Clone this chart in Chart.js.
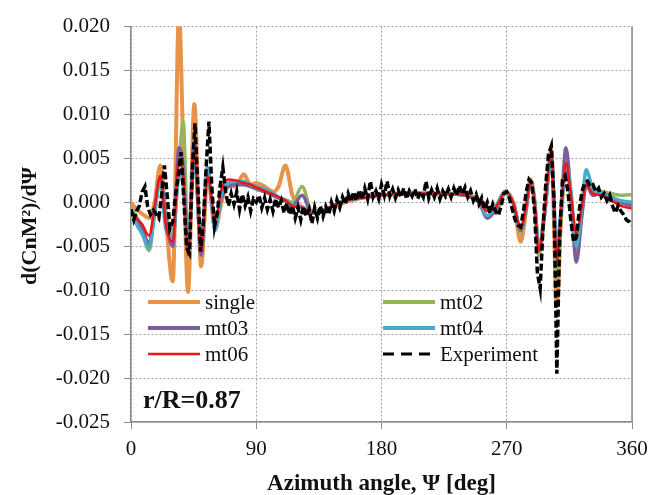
<!DOCTYPE html>
<html>
<head>
<meta charset="utf-8">
<script src="https://cdn.jsdelivr.net/npm/chart.js@4.4.0/dist/chart.umd.min.js"></script>
<style>
  html, body { margin: 0; padding: 0; background: #fff; }
  #wrap { width: 666px; height: 495px; }
</style>
</head>
<body>
<div id="wrap"><canvas id="cnm" width="666" height="495"></canvas></div>
<script>
// azimuth stations of the CFD runs [deg]
const psiModel = [0, 4, 8, 13, 17, 21, 25, 30, 34.5, 37.5,
  41, 45.5, 50.4, 55, 60.5, 65, 70, 75, 81, 86,
  90, 96, 102, 106, 111, 116, 123, 130, 140, 150,
  165, 180, 200, 220, 240, 250, 256, 262, 269, 275,
  280, 284, 287, 290, 293, 297, 302, 306, 309, 312.5,
  316, 320, 324, 327, 332, 338, 345, 352, 360];

const single = [0.0000, -0.0008, -0.0013, -0.0018, 0.0000, 0.0042, -0.0020, -0.0090, 0.0215, 0.0065,
  -0.0102, 0.0112, -0.0073, 0.0030, -0.0030, 0.0000, 0.0020, 0.0018, 0.0032, 0.0020,
  0.0022, 0.0018, 0.0012, 0.0018, 0.0042, 0.0008, -0.0006, -0.0012, -0.0010, -0.0002,
  0.0005, 0.0008, 0.0010, 0.0010, 0.0009, 0.0003, -0.0006, -0.0010, 0.0012, -0.0002,
  -0.0045, -0.0008, 0.0026, 0.0002, -0.0060, -0.0015, 0.0060, -0.0118, -0.0020, 0.0042,
  0.0005, -0.0055, -0.0010, 0.0022, 0.0008, 0.0012, 0.0006, 0.0000, -0.0002];

const mt02 = [-0.0006, -0.0016, -0.0032, -0.0055, -0.0010, 0.0030, -0.0010, -0.0040, 0.0045, 0.0092,
  -0.0048, 0.0062, -0.0055, 0.0035, -0.0025, 0.0010, 0.0020, 0.0022, 0.0020, 0.0018,
  0.0015, 0.0012, 0.0008, 0.0005, 0.0003, 0.0000, 0.0018, -0.0010, -0.0008, 0.0000,
  0.0005, 0.0008, 0.0010, 0.0010, 0.0008, 0.0003, -0.0008, -0.0012, 0.0010, -0.0002,
  -0.0035, -0.0005, 0.0024, 0.0000, -0.0058, -0.0015, 0.0056, -0.0085, -0.0015, 0.0045,
  0.0005, -0.0050, -0.0008, 0.0025, 0.0010, 0.0012, 0.0010, 0.0008, 0.0009];

const mt03 = [-0.0012, -0.0020, -0.0030, -0.0047, -0.0010, 0.0028, -0.0020, -0.0050, 0.0062, 0.0040,
  -0.0055, 0.0070, -0.0060, 0.0040, -0.0025, 0.0005, 0.0018, 0.0020, 0.0020, 0.0018,
  0.0016, 0.0012, 0.0008, 0.0005, 0.0002, -0.0004, 0.0008, -0.0012, -0.0008, 0.0000,
  0.0005, 0.0008, 0.0010, 0.0010, 0.0008, 0.0000, -0.0018, -0.0008, 0.0012, -0.0002,
  -0.0032, -0.0005, 0.0024, 0.0000, -0.0055, -0.0015, 0.0050, -0.0060, -0.0010, 0.0062,
  0.0010, -0.0068, -0.0015, 0.0020, 0.0008, 0.0010, 0.0006, 0.0000, -0.0004];

const mt04 = [-0.0008, -0.0025, -0.0036, -0.0052, -0.0012, 0.0025, -0.0030, -0.0040, 0.0030, 0.0020,
  -0.0050, 0.0050, -0.0050, 0.0040, -0.0032, 0.0010, 0.0022, 0.0024, 0.0024, 0.0020,
  0.0018, 0.0015, 0.0010, 0.0006, 0.0002, -0.0004, -0.0005, -0.0012, -0.0008, 0.0000,
  0.0005, 0.0008, 0.0010, 0.0010, 0.0008, 0.0000, -0.0015, -0.0005, 0.0013, -0.0002,
  -0.0030, -0.0005, 0.0022, 0.0000, -0.0052, -0.0015, 0.0050, -0.0048, -0.0010, 0.0040,
  0.0015, -0.0050, -0.0005, 0.0037, 0.0015, 0.0010, 0.0006, 0.0002, 0.0000];

const mt06 = [-0.0010, -0.0018, -0.0025, -0.0038, -0.0005, 0.0030, -0.0025, -0.0045, 0.0050, 0.0030,
  -0.0060, 0.0060, -0.0055, 0.0030, -0.0020, 0.0015, 0.0026, 0.0025, 0.0022, 0.0020,
  0.0017, 0.0013, 0.0009, 0.0006, 0.0002, -0.0004, -0.0006, -0.0012, -0.0008, 0.0000,
  0.0005, 0.0008, 0.0010, 0.0010, 0.0008, 0.0000, -0.0010, -0.0006, 0.0012, -0.0002,
  -0.0030, -0.0005, 0.0022, 0.0000, -0.0055, -0.0015, 0.0055, -0.0065, -0.0010, 0.0045,
  0.0010, -0.0035, -0.0005, 0.0020, 0.0010, 0.0008, 0.0002, -0.0004, -0.0007];

// wind-tunnel data, one sample every 2 deg from 0 to 360
const psiExpStep = 2;
const experiment = [
  -0.0008, -0.0020, -0.0010, -0.0004, 0.0012, 0.0018, -0.0005, -0.0014, -0.0009, -0.0013,
  -0.0018, 0.0008, 0.0042, 0.0008, -0.0030, -0.0022, 0.0008, 0.0030, 0.0057, 0.0002,
  -0.0052, -0.0058, 0.0035, 0.0090, 0.0018, -0.0056, -0.0022, 0.0040, 0.0092, 0.0020,
  -0.0028, -0.0012, 0.0018, 0.0040, 0.0012, -0.0004, 0.0010, -0.0002, 0.0012, -0.0008,
  0.0009, -0.0004, 0.0006, -0.0010, 0.0004, 0.0000, 0.0008, -0.0006, 0.0005, -0.0008,
  0.0003, -0.0010, 0.0004, -0.0006, 0.0002, -0.0012, -0.0001, -0.0014, -0.0004, -0.0018,
  -0.0006, -0.0020, -0.0005, -0.0016, -0.0008, -0.0024, -0.0006, -0.0018, -0.0004, -0.0016,
  -0.0005, -0.0014, 0.0000, -0.0010, 0.0003, -0.0006, 0.0006, -0.0002, 0.0010, 0.0001,
  0.0012, 0.0002, 0.0014, 0.0003, 0.0016, 0.0004, 0.0024, 0.0006, 0.0013, 0.0004,
  0.0020, 0.0008, 0.0024, 0.0007, 0.0015, 0.0005, 0.0014, 0.0006, 0.0016, 0.0004,
  0.0013, 0.0007, 0.0015, 0.0004, 0.0012, 0.0006, 0.0024, 0.0005, 0.0014, 0.0006,
  0.0016, 0.0004, 0.0013, 0.0007, 0.0015, 0.0006, 0.0016, 0.0008, 0.0019, 0.0009,
  0.0017, 0.0006, 0.0013, 0.0002, 0.0009, -0.0002, 0.0005, -0.0008, 0.0000, -0.0012,
  -0.0002, -0.0010, -0.0015, -0.0004, 0.0010, 0.0012, 0.0004, -0.0008, -0.0020, -0.0026,
  -0.0028, -0.0010, 0.0012, 0.0026, 0.0022, -0.0010, -0.0080, -0.0098, -0.0030, 0.0020,
  0.0055, 0.0064, 0.0000, -0.0195, -0.0040, 0.0025, 0.0030, 0.0012, -0.0020, -0.0045,
  -0.0040, -0.0010, 0.0012, 0.0022, 0.0024, 0.0018, 0.0020, 0.0012, 0.0016, 0.0006,
  0.0010, 0.0002, 0.0008, -0.0004, -0.0012, -0.0004, -0.0010, -0.0014, -0.0020, -0.0022,
  -0.0026];
const psiExp = experiment.map((_, i) => i * psiExpStep);

const xTicks = [0, 90, 180, 270, 360];
const yMin = -0.025, yMax = 0.020, yStep = 0.005;

const SERIES = [
  { label: 'single', ys: single, color: '#E8934A', width: 4, order: 5 },
  { label: 'mt02', ys: mt02, color: '#94B65A', width: 3.5, order: 4 },
  { label: 'mt03', ys: mt03, color: '#7B5EA0', width: 3.5, order: 3 },
  { label: 'mt04', ys: mt04, color: '#4BAAC6', width: 3.5, order: 2 },
  { label: 'mt06', ys: mt06, color: '#F01414', width: 2.5, order: 1 }
];

const SERIF = '"Liberation Serif", "Times New Roman", serif';

function pairs(xs, ys) {
  return xs.map((x, i) => ({ x, y: ys[i] }));
}

const datasets = SERIES.map(s => ({
  label: s.label,
  data: pairs(psiModel, s.ys),
  borderColor: s.color,
  borderWidth: s.width,
  pointRadius: 0,
  cubicInterpolationMode: 'monotone',
  order: s.order
}));

datasets.push({
  label: 'Experiment',
  data: pairs(psiExp, experiment),
  borderColor: '#000',
  borderWidth: 3.5,
  borderDash: [7, 3],
  pointRadius: 0,
  tension: 0,
  order: 0
});

// legend entries, filled row by row in two columns
const legendItems = [
  { label: 'single', color: '#E8934A', width: 4 },
  { label: 'mt02', color: '#94B65A', width: 4 },
  { label: 'mt03', color: '#7B5EA0', width: 4 },
  { label: 'mt04', color: '#4BAAC6', width: 4 },
  { label: 'mt06', color: '#F01414', width: 2.5 },
  { label: 'Experiment', color: '#000', width: 3, dash: [11, 7] }
];

const decorations = {
  id: 'decorations',
  afterDraw(chart) {
    const { ctx, chartArea: a } = chart;
    ctx.save();

    // right edge of the frame
    ctx.strokeStyle = '#8c8c8c';
    ctx.lineWidth = 1.5;
    ctx.beginPath();
    ctx.moveTo(a.right, a.top);
    ctx.lineTo(a.right, a.bottom);
    ctx.stroke();

    // legend
    const colX = [a.left + 17, a.left + 252];
    const rowY = [302, 328, 354];
    ctx.font = '21px ' + SERIF;
    ctx.textBaseline = 'middle';
    ctx.textAlign = 'left';
    legendItems.forEach((it, i) => {
      const x = colX[i % 2], y = rowY[Math.floor(i / 2)];
      ctx.strokeStyle = it.color;
      ctx.lineWidth = it.width;
      ctx.setLineDash(it.dash || []);
      ctx.beginPath();
      ctx.moveTo(x, y);
      ctx.lineTo(x + 52, y);
      ctx.stroke();
      ctx.setLineDash([]);
      ctx.fillStyle = '#111';
      ctx.fillText(it.label, x + 57, y + 1);
    });

    // station label
    ctx.font = 'bold 26px ' + SERIF;
    ctx.textBaseline = 'alphabetic';
    ctx.fillText('r/R=0.87', a.left + 12, 408);

    // axis titles
    ctx.font = 'bold 23px ' + SERIF;
    ctx.textAlign = 'center';
    ctx.fillText('Azimuth angle, \u03A8 [deg]', (a.left + a.right) / 2, 490);

    ctx.translate(30, 226);
    ctx.rotate(-Math.PI / 2);
    ctx.font = 'bold 22px ' + SERIF;
    ctx.textBaseline = 'middle';
    ctx.fillText('d(CnM\u00B2)/d\u03A8', 0, 0);

    ctx.restore();
  }
};

Chart.defaults.font.family = SERIF;
Chart.defaults.color = '#111';

new Chart(document.getElementById('cnm'), {
  type: 'line',
  data: { datasets },
  options: {
    responsive: false,
    animation: false,
    layout: { padding: { top: 16, right: 34, left: 0, bottom: 0 } },
    plugins: { legend: { display: false }, tooltip: { enabled: false } },
    scales: {
      x: {
        type: 'linear',
        min: xTicks[0],
        max: xTicks[xTicks.length - 1],
        afterBuildTicks: scale => { scale.ticks = xTicks.map(v => ({ value: v })); },
        afterFit: scale => { scale.height = 73; },
        ticks: { font: { size: 21 }, padding: 8, maxRotation: 0, callback: v => String(v) },
        grid: { color: '#a0a0a0', lineWidth: 1, tickLength: 7, tickColor: '#8c8c8c', tickBorderDash: [] },
        border: { color: '#8c8c8c', width: 1.5, dash: [2, 2] }
      },
      y: {
        min: yMin,
        max: yMax,
        afterFit: scale => { scale.width = 131; },
        ticks: {
          stepSize: yStep,
          font: { size: 21 },
          padding: 14,
          callback: v => (Math.abs(v) < 1e-9 ? 0 : v).toFixed(3)
        },
        grid: { color: '#a0a0a0', lineWidth: 1, tickLength: 7, tickColor: '#8c8c8c', tickBorderDash: [] },
        border: { color: '#8c8c8c', width: 1.5, dash: [2, 2] }
      }
    }
  },
  plugins: [decorations]
});
</script>
</body>
</html>
